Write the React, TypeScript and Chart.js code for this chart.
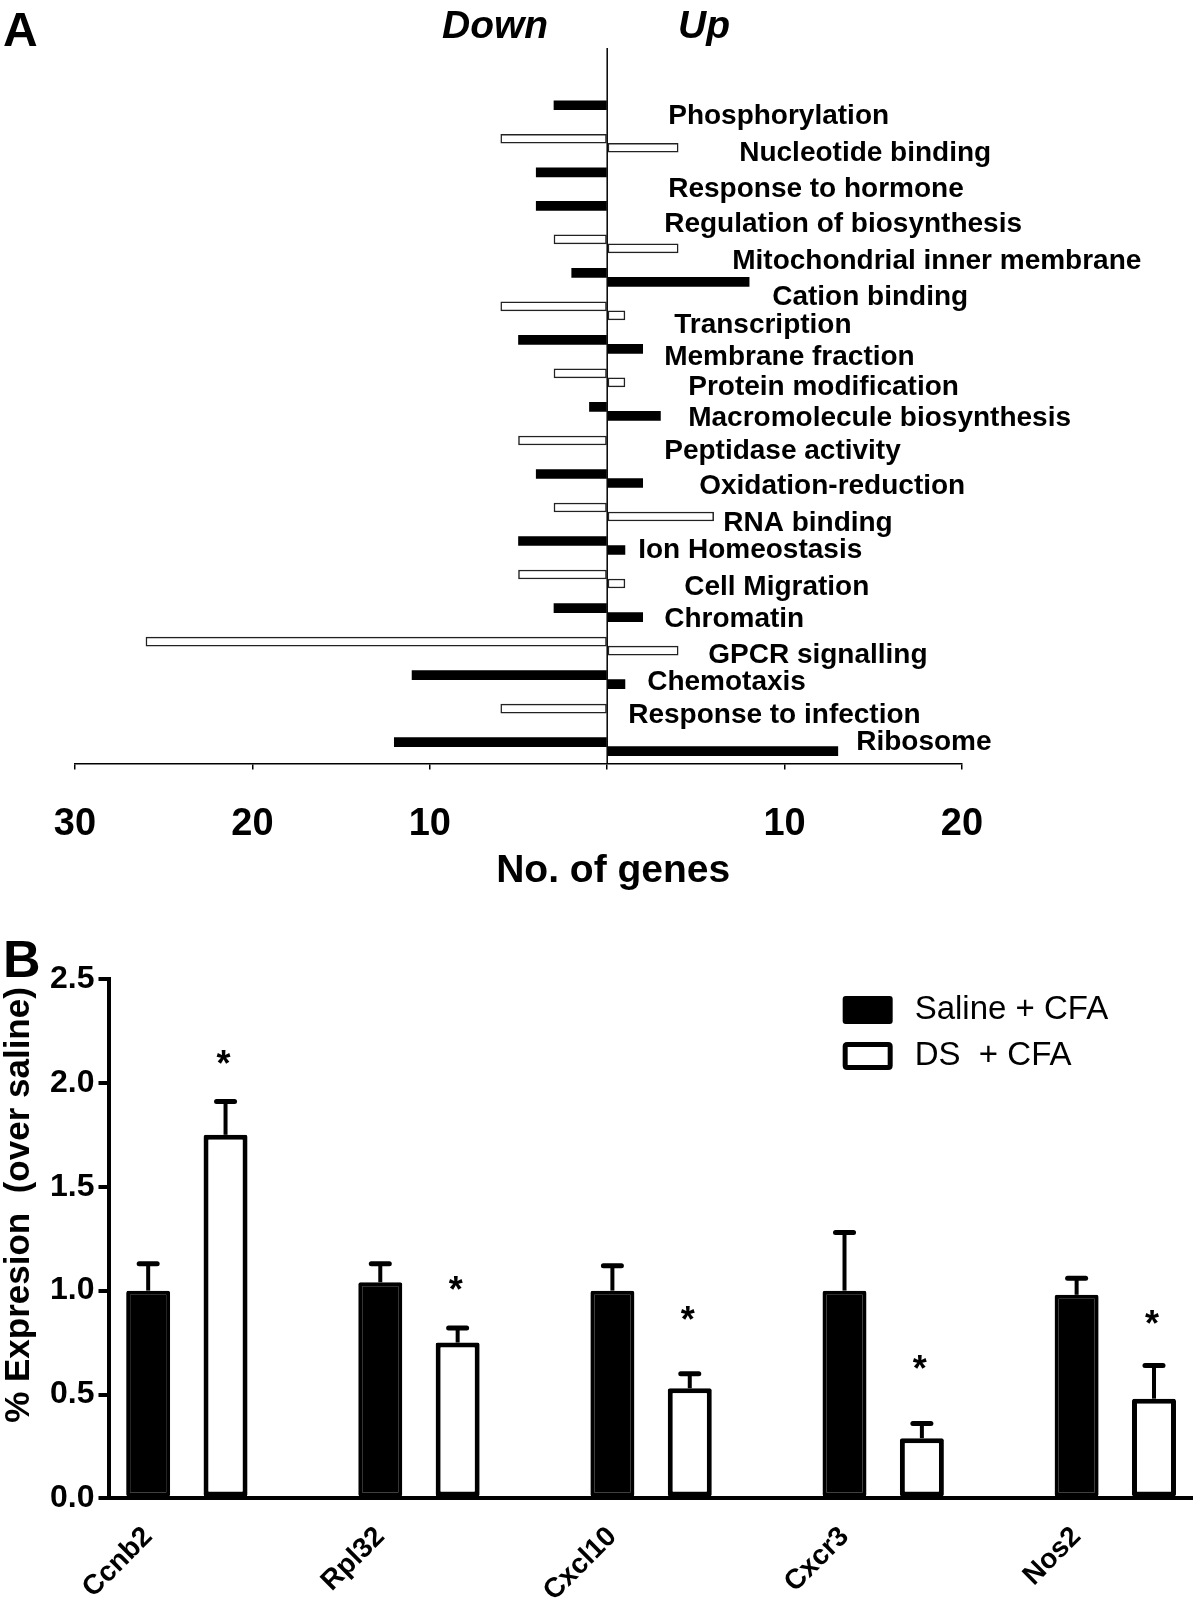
import React, { useEffect, useRef } from 'react';
import { Chart, registerables } from 'chart.js';

Chart.register(...registerables);

const FONT = '"Liberation Sans", Arial, Helvetica, sans-serif';
Chart.defaults.font.family = FONT;
Chart.defaults.color = '#000';

// ---------- Panel A data ----------
const goTerms = [
  'Phosphorylation',
  'Nucleotide binding',
  'Response to hormone',
  'Regulation of biosynthesis',
  'Mitochondrial inner membrane',
  'Cation binding',
  'Transcription',
  'Membrane fraction',
  'Protein modification',
  'Macromolecule biosynthesis',
  'Peptidase activity',
  'Oxidation-reduction',
  'RNA binding',
  'Ion Homeostasis',
  'Cell Migration',
  'Chromatin',
  'GPCR signalling',
  'Chemotaxis',
  'Response to infection',
  'Ribosome',
];
const downGenes = [3, 6, 4, 4, 3, 2, 6, 5, 3, 1, 5, 4, 3, 5, 5, 3, 26, 11, 6, 12];
const upGenes = [null, 4, null, null, 4, 8, 1, 2, 1, 3, null, 2, 6, 1, 1, 2, 4, 1, null, 13];
const termSolid = [true, false, true, true, false, true, false, true, false, true, false, true, false, true, false, true, false, true, false, true];
const geneAxisMin = -30;
const geneAxisMax = 20;
const geneAxisStep = 10;
const geneAxisTitle = 'No. of genes';

// layout only: offsets (px) of each term label from the zero line / its category row
const termLabelDx = [61, 132, 61, 57, 125, 165, 67, 57, 81, 81, 57, 92, 116, 31, 77, 57, 101, 40, 21, 249];
const termLabelDy = [7, 10, 12, 14, 17, 20, 14, 13, 9, 7, 6, 8, 11, 5, 8, 7, 9, 3, 2, -4];

// ---------- Panel B data ----------
const genes = ['Ccnb2', 'Rpl32', 'Cxcl10', 'Cxcr3', 'Nos2'];
const salineMean = [1.0, 1.04, 1.0, 1.0, 0.98];
const salineSem = [0.13, 0.09, 0.12, 0.28, 0.08];
const dsMean = [1.75, 0.75, 0.53, 0.29, 0.48];
const dsSem = [0.16, 0.07, 0.07, 0.07, 0.16];
const dsSignificant = [true, true, true, true, true];
const seriesNames = ['Saline + CFA', 'DS  + CFA'];
const expressionTicks = { min: 0, max: 2.5, step: 0.5 };
const expressionTitle = '% Expresion  (over saline)';
// layout only: gap (px) between error-bar cap and significance star
const starGap = [46, 46, 62, 63, 49];

function PanelA() {
  const ref = useRef<HTMLCanvasElement>(null);
  useEffect(() => {
    const canvas = ref.current as HTMLCanvasElement;
    const fills = termSolid.map((s) => (s ? '#000' : '#fff'));
    const widths = termSolid.map((s) => (s ? 0 : 1.5));
    const annot = {
      id: 'annotA',
      afterDraw(chart: any) {
        const { ctx, chartArea } = chart;
        const xs = chart.scales.x;
        const ys = chart.scales.y;
        const x0 = xs.getPixelForValue(0);
        ctx.save();
        ctx.strokeStyle = '#000';
        ctx.lineWidth = 1.5;
        ctx.beginPath();
        ctx.moveTo(x0, 48);
        ctx.lineTo(x0, chartArea.bottom);
        ctx.stroke();
        ctx.fillStyle = '#000';
        ctx.font = `bold 28px ${FONT}`;
        ctx.textAlign = 'left';
        ctx.textBaseline = 'middle';
        goTerms.forEach((t, i) => {
          ctx.fillText(t, x0 + termLabelDx[i], ys.getPixelForValue(i) + termLabelDy[i]);
        });
        // axis title
        ctx.font = `bold 39px ${FONT}`;
        ctx.textAlign = 'center';
        ctx.fillText(geneAxisTitle, x0 + 6, 871);
        ctx.textAlign = 'left';
        ctx.textBaseline = 'alphabetic';
        ctx.font = `bold 48px ${FONT}`;
        ctx.fillText('A', 3, 46);
        ctx.font = `italic bold 39px ${FONT}`;
        ctx.fillText('Down', 442, 38);
        ctx.fillText('Up', 678, 38);
        ctx.restore();
      },
    };
    const chart = new Chart(canvas, {
      type: 'bar',
      data: {
        labels: goTerms,
        datasets: [
          {
            label: 'Down',
            data: downGenes.map((v) => -v),
            backgroundColor: fills,
            borderColor: '#222',
            borderWidth: widths,
            borderSkipped: false,
            barThickness: 9,
          },
          {
            label: 'Up',
            data: upGenes,
            backgroundColor: fills,
            borderColor: '#222',
            borderWidth: widths,
            borderSkipped: false,
            barThickness: 9,
          },
        ],
      } as any,
      options: {
        indexAxis: 'y',
        responsive: false,
        animation: false,
        layout: { padding: { left: 75, right: 238, top: 93, bottom: 21 } },
        plugins: { legend: { display: false }, tooltip: { enabled: false } },
        scales: {
          x: {
            type: 'linear',
            min: geneAxisMin,
            max: geneAxisMax,
            ticks: {
              stepSize: geneAxisStep,
              padding: 32,
              color: '#000',
              font: { size: 38, weight: 'bold' },
              callback: (v: any) => (Number(v) === 0 ? '' : String(Math.abs(Number(v)))),
            },
            grid: { display: true, drawOnChartArea: false, drawTicks: true, tickLength: 6, lineWidth: 1.5, color: '#000' },
            border: { display: true, width: 1.5, color: '#000' },
            title: { display: false },
          },
          y: { display: false },
        },
      } as any,
      plugins: [annot],
    });
    return () => chart.destroy();
  }, []);
  return (
    <canvas
      ref={ref}
      width={1200}
      height={900}
      style={{ position: 'absolute', left: 0, top: 0, width: 1200, height: 900, display: 'block' }}
    />
  );
}

function PanelB() {
  const ref = useRef<HTMLCanvasElement>(null);
  useEffect(() => {
    const canvas = ref.current as HTMLCanvasElement;
    const last = genes.length - 1;
    const slotLabels = genes.flatMap((g, i) => (i < last ? [g, '', ''] : [g, '']));
    const salineSlots = genes.flatMap((g, i) => (i < last ? [salineMean[i], null, null] : [salineMean[i], null]));
    const dsSlots = genes.flatMap((g, i) => (i < last ? [null, dsMean[i], null] : [null, dsMean[i]]));

    const annot = {
      id: 'annotB',
      afterDatasetsDraw(chart: any) {
        const { ctx } = chart;
        const ys = chart.scales.y;
        const metaS = chart.getDatasetMeta(0);
        const metaD = chart.getDatasetMeta(1);
        ctx.save();
        ctx.strokeStyle = '#000';
        ctx.fillStyle = '#000';
        const drawErr = (el: any, mean: number, sem: number) => {
          const top = ys.getPixelForValue(mean + sem);
          ctx.lineCap = 'butt';
          ctx.lineWidth = 4;
          ctx.beginPath();
          ctx.moveTo(el.x, el.y);
          ctx.lineTo(el.x, top);
          ctx.stroke();
          ctx.lineCap = 'round';
          ctx.lineWidth = 5;
          ctx.beginPath();
          ctx.moveTo(el.x - 9, top);
          ctx.lineTo(el.x + 9, top);
          ctx.stroke();
          return top;
        };
        genes.forEach((g, i) => {
          const eS = metaS.data[3 * i];
          const eD = metaD.data[3 * i + 1];
          if (eS) drawErr(eS, salineMean[i], salineSem[i]);
          if (eD) {
            const top = drawErr(eD, dsMean[i], dsSem[i]);
            if (dsSignificant[i]) {
              ctx.font = `bold 36px ${FONT}`;
              ctx.textAlign = 'center';
              ctx.textBaseline = 'alphabetic';
              ctx.fillText('*', eD.x - 2, top - starGap[i] + 20);
            }
          }
        });
        ctx.restore();
      },
      afterDraw(chart: any) {
        const { ctx, chartArea } = chart;
        ctx.save();
        ctx.fillStyle = '#000';
        ctx.strokeStyle = '#000';
        // panel letter
        ctx.font = `bold 52px ${FONT}`;
        ctx.textAlign = 'left';
        ctx.textBaseline = 'alphabetic';
        ctx.fillText('B', 3, 77);
        // y-axis title
        ctx.save();
        ctx.translate(19, 305);
        ctx.rotate(-Math.PI / 2);
        ctx.font = `bold 35px ${FONT}`;
        ctx.textAlign = 'center';
        ctx.textBaseline = 'middle';
        ctx.fillText(expressionTitle, 0, 0);
        ctx.restore();
        // legend
        const lx = chartArea.right - 350;
        const rows = [chartArea.top + 31, chartArea.top + 77];
        const rr = (x: number, y: number, w: number, h: number, r: number) => {
          ctx.beginPath();
          ctx.moveTo(x + r, y);
          ctx.lineTo(x + w - r, y);
          ctx.quadraticCurveTo(x + w, y, x + w, y + r);
          ctx.lineTo(x + w, y + h - r);
          ctx.quadraticCurveTo(x + w, y + h, x + w - r, y + h);
          ctx.lineTo(x + r, y + h);
          ctx.quadraticCurveTo(x, y + h, x, y + h - r);
          ctx.lineTo(x, y + r);
          ctx.quadraticCurveTo(x, y, x + r, y);
          ctx.closePath();
        };
        rr(lx, rows[0] - 14, 50, 28, 3);
        ctx.fill();
        ctx.lineWidth = 5;
        rr(lx + 2.5, rows[1] - 11.5, 45, 23, 2);
        ctx.stroke();
        ctx.font = `33px ${FONT}`;
        ctx.textBaseline = 'middle';
        ctx.textAlign = 'left';
        ctx.fillText(seriesNames[0], lx + 72, rows[0]);
        ctx.fillText(seriesNames[1], lx + 72, rows[1]);
        ctx.restore();
      },
    };

    const chart = new Chart(canvas, {
      type: 'bar',
      data: {
        labels: slotLabels,
        datasets: [
          {
            label: seriesNames[0],
            data: salineSlots,
            backgroundColor: '#000',
            borderColor: '#000',
            borderWidth: 4,
            borderRadius: 2,
            borderSkipped: false,
            grouped: false,
            categoryPercentage: 1,
            barPercentage: 0.6,
            maxBarThickness: 44,
          },
          {
            label: seriesNames[1],
            data: dsSlots,
            backgroundColor: '#fff',
            borderColor: '#000',
            borderWidth: 5,
            borderRadius: 2,
            borderSkipped: false,
            grouped: false,
            categoryPercentage: 1,
            barPercentage: 0.6,
            maxBarThickness: 44,
          },
        ],
      } as any,
      options: {
        responsive: false,
        animation: false,
        layout: { padding: { left: 46, right: 7, top: 79, bottom: 0 } },
        plugins: { legend: { display: false }, tooltip: { enabled: false } },
        scales: {
          x: {
            grid: { display: false, drawTicks: false },
            border: { display: true, width: 4, color: '#000' },
            ticks: {
              autoSkip: false,
              maxRotation: 45,
              minRotation: 45,
              padding: 22,
              color: '#000',
              font: { size: 28, weight: 'bold' },
            },
          },
          y: {
            min: expressionTicks.min,
            max: expressionTicks.max,
            ticks: {
              stepSize: expressionTicks.step,
              padding: 4,
              color: '#000',
              font: { size: 32, weight: 'bold' },
              callback: (v: any) => Number(v).toFixed(1),
            },
            grid: { display: true, drawOnChartArea: false, drawTicks: true, tickLength: 11, lineWidth: 4, color: '#000' },
            border: { display: true, width: 4, color: '#000' },
          },
        },
      } as any,
      plugins: [annot],
    });
    return () => chart.destroy();
  }, []);
  return (
    <canvas
      ref={ref}
      width={1200}
      height={730}
      style={{ position: 'absolute', left: 0, top: 900, width: 1200, height: 730, display: 'block' }}
    />
  );
}

export default function App() {
  return (
    <div
      style={{
        position: 'absolute',
        left: 0,
        top: 0,
        width: 1200,
        height: 1602,
        overflow: 'hidden',
        background: '#fff',
      }}
    >
      <PanelA />
      <PanelB />
    </div>
  );
}
